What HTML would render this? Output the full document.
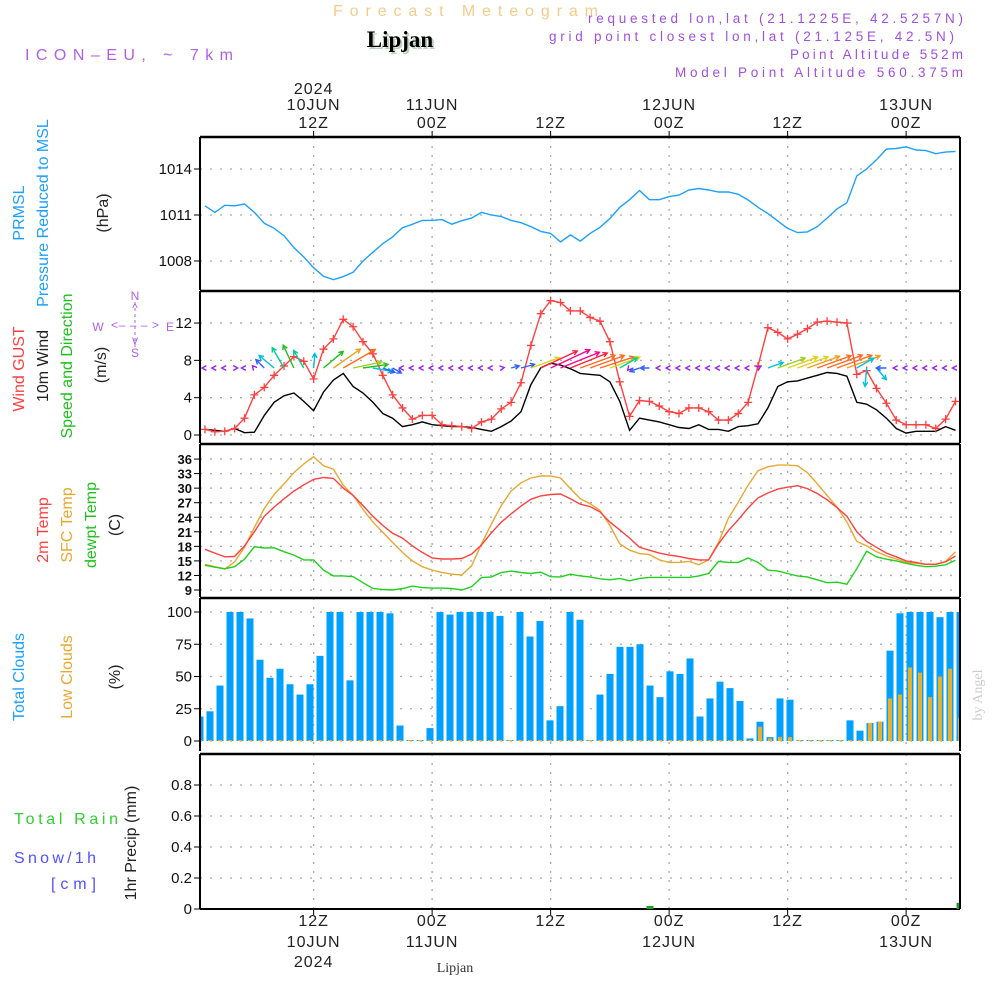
<!DOCTYPE html>
<html><head><meta charset="utf-8"><style>
html,body{margin:0;padding:0;background:#fff;}
svg{display:block;font-family:"Liberation Sans",sans-serif;}
</style></head><body>
<svg id="c" width="1000" height="1000" viewBox="0 0 1000 1000" xmlns="http://www.w3.org/2000/svg">
<text x="333" y="16" textLength="265" lengthAdjust="spacing" font-size="16" fill="#f2cc8a">Forecast Meteogram</text>
<text x="402" y="49" text-anchor="middle" font-size="23" font-weight="bold" font-family="Liberation Serif,serif" fill="#bcd0bc">Lipjan</text>
<text x="400" y="47" text-anchor="middle" font-size="23" font-weight="bold" font-family="Liberation Serif,serif" fill="#000">Lipjan</text>
<text x="25" y="60" textLength="208" lengthAdjust="spacing" font-size="16" fill="#b060e8">ICON–EU, ~ 7km</text>
<g font-size="13.5" fill="#a050e0">
<text x="588" y="23" textLength="375" lengthAdjust="spacing">requested lon,lat (21.1225E, 42.5257N)</text>
<text x="549" y="41" textLength="405" lengthAdjust="spacing">grid point closest lon,lat (21.125E, 42.5N)</text>
<text x="790" y="59" textLength="173" lengthAdjust="spacing">Point Altitude 552m</text>
<text x="675" y="77" textLength="288" lengthAdjust="spacing">Model Point Altitude 560.375m</text>
</g>
<g font-size="16" fill="#222">
<text transform="translate(24,213) rotate(-90)" text-anchor="middle" fill="#1ea0ff">PRMSL</text>
<text transform="translate(48,213) rotate(-90)" text-anchor="middle" fill="#1ea0ff">Pressure Reduced to MSL</text>
<text transform="translate(108,213) rotate(-90)" text-anchor="middle">(hPa)</text>
<text transform="translate(24,369) rotate(-90)" text-anchor="middle" fill="#ff4040">Wind GUST</text>
<text transform="translate(48,366) rotate(-90)" text-anchor="middle">10m Wind</text>
<text transform="translate(72,366) rotate(-90)" text-anchor="middle" fill="#20c020">Speed and Direction</text>
<text transform="translate(106,365) rotate(-90)" text-anchor="middle">(m/s)</text>
<text transform="translate(48,530) rotate(-90)" text-anchor="middle" fill="#ff4040">2m Temp</text>
<text transform="translate(72,525) rotate(-90)" text-anchor="middle" fill="#e8a830">SFC Temp</text>
<text transform="translate(96,525) rotate(-90)" text-anchor="middle" fill="#20c020">dewpt Temp</text>
<text transform="translate(120,525) rotate(-90)" text-anchor="middle">(C)</text>
<text transform="translate(24,677) rotate(-90)" text-anchor="middle" fill="#1ea0ff">Total Clouds</text>
<text transform="translate(72,677) rotate(-90)" text-anchor="middle" fill="#e8a830">Low Clouds</text>
<text transform="translate(120,677) rotate(-90)" text-anchor="middle">(%)</text>
<text transform="translate(136,843) rotate(-90)" text-anchor="middle">1hr Precip (mm)</text>
<text x="14" y="824" fill="#30d030" textLength="104" lengthAdjust="spacing">Total   Rain</text>
<text x="14" y="863" fill="#5050ff" textLength="82" lengthAdjust="spacing">Snow/1h</text>
<text x="51" y="889" fill="#5050ff" textLength="45" lengthAdjust="spacing">[cm]</text>
</g>
<g font-size="12" fill="#b060e8" text-anchor="middle">
<text x="135" y="300">N</text><text x="135" y="357">S</text><text x="98" y="331">W</text><text x="170" y="331">E</text>
<text x="135" y="329" font-size="12" textLength="48" lengthAdjust="spacing">&lt;– – – &gt;</text>
<text x="135" y="312">^</text><text x="135" y="344">v</text>
<line x1="135" y1="302" x2="135" y2="348" stroke="#b060e8" stroke-dasharray="3,3"/>
</g>
<text transform="translate(982,695) rotate(-90)" text-anchor="middle" font-size="14" fill="#ccc" font-family="Liberation Serif,serif">by Angel</text>
<text x="455" y="972" text-anchor="middle" font-size="14" fill="#333" font-family="Liberation Serif,serif">Lipjan</text>
<g id="plot"></g>
</svg>
<script>
// ---- data (hour index 0..76, hourly) ----
const timeTickHours = [11, 23, 35, 47, 59, 71];
const topTickLabels = [["2024","10JUN","12Z"],["","11JUN","00Z"],["","","12Z"],["","12JUN","00Z"],["","","12Z"],["","13JUN","00Z"]];
const botTickLabels = [["12Z","10JUN","2024"],["00Z","11JUN",""],["12Z","",""],["00Z","12JUN",""],["12Z","",""],["00Z","13JUN",""]];
const pressure = [1011.6,1011.17,1011.63,1011.6,1011.72,1011.17,1010.46,1010.13,1009.65,1008.87,1008.26,1007.56,1007.0,1006.78,1006.98,1007.26,1008.0,1008.57,1009.13,1009.57,1010.17,1010.39,1010.65,1010.65,1010.7,1010.4,1010.63,1010.8,1011.17,1011.0,1010.9,1010.65,1010.5,1010.24,1009.93,1009.8,1009.24,1009.7,1009.3,1009.8,1010.2,1010.77,1011.5,1012.0,1012.6,1012.0,1012.0,1012.2,1012.3,1012.63,1012.73,1012.63,1012.5,1012.5,1012.35,1011.98,1011.5,1011.1,1010.6,1010.13,1009.85,1009.9,1010.24,1010.8,1011.4,1011.8,1013.55,1014.0,1014.6,1015.3,1015.34,1015.45,1015.24,1015.2,1015.0,1015.1,1015.15];
const gust = [0.6,0.35,0.4,0.7,1.8,4.3,5.1,6.4,7.4,8.4,7.9,6.0,9.2,10.3,12.4,11.6,10.0,8.7,6.4,4.3,2.9,1.7,2.1,2.1,1.1,1.0,0.9,0.7,1.4,1.7,2.8,3.5,5.6,9.6,13.0,14.4,14.2,13.3,13.3,12.6,12.2,10.0,5.7,2.0,3.7,3.6,3.1,2.5,2.3,2.9,2.9,2.5,1.6,1.6,2.3,3.5,7.4,11.5,11.0,10.3,10.8,11.4,12.1,12.2,12.1,12.0,6.5,6.9,5.0,3.4,1.6,1.1,1.1,1.1,0.7,1.7,3.6];
const wind10m = [0.6,0.5,0.4,0.7,0.25,0.3,2.1,3.5,4.2,4.5,3.6,2.6,4.6,5.9,6.6,5.2,4.5,3.5,2.3,1.8,0.9,1.1,1.4,1.1,1.0,0.9,0.9,0.8,0.6,0.4,0.9,1.5,2.5,5.4,7.2,7.7,7.5,7.1,6.6,6.5,6.4,5.7,3.6,0.5,1.8,1.6,1.4,1.1,0.8,0.7,1.1,0.6,0.6,0.4,0.9,1.0,1.2,2.9,5.2,5.7,5.8,6.1,6.4,6.7,6.6,6.3,3.5,3.3,2.7,1.8,0.7,0.2,0.4,0.4,0.4,0.9,0.5];
const windDir = [180,180,180,0,180,130,135,140,120,115,120,85,40,35,30,12,8,-10,-20,-30,180,180,180,180,180,180,180,180,180,180,10,15,15,20,25,25,22,22,20,20,18,20,30,230,200,180,180,180,180,180,180,180,180,180,180,180,30,20,20,20,20,20,20,20,20,20,30,265,-50,180,180,180,180,180,180,180,180];
const temp2m = [17.4,16.6,15.85,15.9,18.1,21.0,24.2,26.1,27.8,29.4,30.7,31.8,32.2,32.0,30.0,28.5,26.4,24.2,22.3,20.7,19.7,18.1,16.75,15.6,15.4,15.4,15.5,16.4,18.3,20.8,23.0,24.7,26.3,27.7,28.4,28.7,28.8,27.8,26.7,26.2,25.1,23.0,21.4,19.7,17.8,17.2,16.6,16.2,15.9,15.5,15.2,15.2,18.5,21.25,23.5,25.9,28.0,29.0,29.8,30.2,30.5,29.9,28.9,27.6,26.0,24.2,21.0,19.0,17.8,16.6,15.85,15.0,14.7,14.3,14.3,14.8,16.0];
const tempSfc = [14.3,13.8,13.3,14.8,17.8,21.9,25.8,28.7,30.9,33.2,35.0,36.5,34.6,33.9,30.6,28.5,25.6,23.0,20.9,18.8,16.75,15.0,13.8,13.1,12.6,12.25,12.1,14.0,18.5,22.6,26.4,29.4,31.1,32.1,32.5,32.5,32.1,29.9,27.8,26.8,25.4,22.3,18.5,17.2,16.5,16.3,15.2,14.7,14.7,14.9,14.2,15.2,18.8,23.8,27.1,30.6,33.6,34.4,34.75,34.75,34.6,33.2,30.9,28.5,26.1,23.0,19.0,18.1,16.9,16.0,15.4,14.7,14.5,14.3,14.3,14.9,16.9];
const dewpt = [14.1,13.7,13.4,13.8,15.35,17.9,17.65,17.7,16.9,16.2,15.2,15.2,13.1,11.9,11.9,11.75,10.5,9.3,9.1,9.0,9.3,9.8,9.5,9.4,9.4,9.3,9.0,9.7,11.55,11.7,12.6,12.9,12.6,12.4,12.7,11.75,11.7,12.25,11.9,11.7,11.3,11.1,11.4,10.9,11.4,11.6,11.6,11.6,11.6,11.6,11.9,12.4,14.9,14.7,14.7,15.6,14.7,13.1,12.9,12.4,11.9,11.7,11.1,10.5,10.6,10.2,13.4,17.0,15.85,15.35,15.0,14.5,14.1,13.8,13.9,14.2,15.15];
// cloud bars (77 bars)
const totalClouds = [19,23,43,100,100,95,63,49,56,44,36,44,66,100,100,47,100,100,100,99,12,0,0,10,100,98,100,100,100,100,97,0,100,81,93,16,27,100,94,0,36,52,73,73,75,43,34,54,52,64,19,33,46,41,31,2,15,3,33,32,0,0,0,0,0,16,8,14,15,70,99,100,100,100,96,100,100];
const lowClouds = [0,0,0,0,0,0,0,0,0,0,0,0,0,0,0,0,0,0,0,0,0,0,0,0,0,0,0,0,0,0,0,0,0,0,0,0,0,0,0,0,0,0,0,0,0,0,0,0,0,0,0,0,0,0,0,0,11,2,3,3,0,0,0,0,0,0,0,14,15,33,36,57,53,34,50,56,18];
const precip = [0,0,0,0,0,0,0,0,0,0,0,0,0,0,0,0,0,0,0,0,0,0,0,0,0,0,0,0,0,0,0,0,0,0,0,0,0,0,0,0,0,0,0,0,0,0.02,0,0,0,0,0,0,0,0,0,0,0,0,0,0,0,0,0,0,0,0,0,0,0,0,0,0,0,0,0,0,0.04];
const pTicks = [1008, 1011, 1014];
const wTicks = [0, 4, 8, 12];
const tTicks = [9, 12, 15, 18, 21, 24, 27, 30, 33, 36];
const cTicks = [0, 25, 50, 75, 100];
const rTicks = [0, 0.2, 0.4, 0.6, 0.8];

// ---- scales ----
const X0 = 200, X1 = 960;
const xH = h => 205 + 9.875 * h;
const xB = k => 200 + 10 * k;
const yP = v => 169 + (1014 - v) * 15.33;
const yW = v => 435 - v * 9.33;
const yT = v => 590 - (v - 9) * 4.85;
const yC = v => 741 - v * 1.29;
const yR = v => 909 - v * 155;

const NS = "http://www.w3.org/2000/svg";
const plot = document.getElementById('plot');
function el(tag, attrs, parent) {
  const e = document.createElementNS(NS, tag);
  for (const k in attrs) e.setAttribute(k, attrs[k]);
  (parent || plot).appendChild(e);
  return e;
}
const panels = [
  {name:'pressure-panel', top:137, bot:290, ticks:pTicks, y:yP, fmt:v=>String(v)},
  {name:'wind-panel', top:291, bot:443, ticks:wTicks, y:yW, fmt:v=>String(v)},
  {name:'temperature-panel', top:444, bot:597, ticks:tTicks, y:yT, fmt:v=>String(v)},
  {name:'clouds-panel', top:598, bot:751, ticks:cTicks, y:yC, fmt:v=>String(v)},
  {name:'precip-panel', top:754, bot:909, ticks:rTicks, y:yR, fmt:v=>v===0?'0':v.toFixed(1)}
];
panels.forEach(p => {
  const g = el('g', {});
  
  
  p.ticks.forEach(t => {
    const y = p.y(t);
    const gl = el('line', {x1:X0, x2:X1, y1:y, y2:y, stroke:'#aaa', 'stroke-dasharray':'2,8', 'stroke-width':1.3}, g);
    
    
    el('line', {x1:X0-6, x2:X0, y1:y, y2:y, stroke:'#000'}, g);
    const tx = el('text', {x:X0-8, y:y+5, 'text-anchor':'end', 'font-size': p.name==='temperature-panel'?13:15, 'font-weight': p.name==='temperature-panel'?'bold':'normal', fill:'#111'}, g);
    tx.textContent = p.fmt(t);
    
    
  });
  timeTickHours.forEach(h => {
    const vl = el('line', {x1:xH(h), x2:xH(h), y1:p.top, y2:p.bot, stroke:'#aaa', 'stroke-dasharray':'2,7', 'stroke-width':1.3}, g);
    
    
  });
  el('line', {x1:X0, x2:X0, y1:p.top, y2:p.bot, stroke:'#000', 'stroke-width':2}, g);
  el('line', {x1:X1, x2:X1, y1:p.top, y2:p.bot, stroke:'#000', 'stroke-width':2}, g);
  el('line', {x1:X0, x2:X1, y1:p.top, y2:p.top, stroke:'#000', 'stroke-width':2.5}, g);
});
el('line', {x1:X0, x2:X1, y1:909, y2:909, stroke:'#000', 'stroke-width':2});

// time labels
timeTickHours.forEach((h, i) => {
  const x = xH(h);
  el('line', {x1:x, x2:x, y1:131, y2:137, stroke:'#000'});
  el('line', {x1:x, x2:x, y1:909, y2:915, stroke:'#000'});
  topTickLabels[i].forEach((s, j) => {
    if (!s) return;
    const t = el('text', {x:x, y:[94,110,128][j], 'text-anchor':'middle', 'font-size':16, fill:'#222', 'letter-spacing':1});
    t.textContent = s;
    
    
  });
  botTickLabels[i].forEach((s, j) => {
    if (!s) return;
    const t = el('text', {x:x, y:[926,947,967][j], 'text-anchor':'middle', 'font-size':16, fill:'#222', 'letter-spacing':1});
    t.textContent = s;
    
    
  });
});

const cp = el('clipPath', {id:'clip'});
el('rect', {x:X0+1, y:0, width:X1-X0-2, height:1000}, cp);
const data = el('g', {'clip-path':'url(#clip)'});

function line(arr, yf, color, name, w) {
  const d = arr.map((v, i) => (i ? 'L' : 'M') + xH(i).toFixed(1) + ',' + yf(v).toFixed(1)).join('');
  const p = el('path', {d:d, fill:'none', stroke:color, 'stroke-width':w||1.4}, data);
  
  
}
line(pressure, yP, '#1ea0ff', 'pressure-line');
line(wind10m, yW, '#000', 'wind-10m-line');
line(gust, yW, '#ff4040', 'gust-line');
gust.forEach((v, i) => {
  const x = xH(i), y = yW(v);
  const m = el('path', {d:`M${x-4},${y}H${x+4}M${x},${y-4}V${y+4}`, stroke:'#ff4040', 'stroke-width':1.3}, data);
  
  
});
function spdColor(s) {
  if (s < 1.5) return '#9a20f0';
  if (s < 2.6) return '#3060ff';
  if (s < 3.6) return '#00c0e0';
  if (s < 4.3) return '#00d090';
  if (s < 4.8) return '#20c020';
  if (s < 5.3) return '#a0d020';
  if (s < 5.9) return '#e0d020';
  if (s < 6.4) return '#f0a020';
  if (s < 6.9) return '#ff6a20';
  if (s < 7.3) return '#ff2040';
  return '#ff0090';
}
windDir.forEach((d, i) => {
  const s = wind10m[i];
  const x = xH(i), y = 368;
  const a = d * Math.PI / 180;
  const L = s < 1.5 ? 3 : s * 5.6;
  const x2 = x + L * Math.cos(a), y2 = y - L * Math.sin(a);
  const hl = 5, ha = 0.5;
  const h1x = x2 - hl * Math.cos(a - ha), h1y = y2 + hl * Math.sin(a - ha);
  const h2x = x2 - hl * Math.cos(a + ha), h2y = y2 + hl * Math.sin(a + ha);
  const dd = (s < 1.5 ? '' : `M${x},${y}L${x2},${y2}`) + `M${h1x},${h1y}L${x2},${y2}L${h2x},${h2y}`;
  const ar = el('path', {d:dd, fill:'none', stroke:spdColor(s), 'stroke-width':1.4}, data);
  
  
});
line(tempSfc, yT, '#e8a830', 'sfc-temp-line');
line(temp2m, yT, '#ff4040', '2m-temp-line');
line(dewpt, yT, '#20d020', 'dewpoint-line');

totalClouds.forEach((v, k) => {
  const x = xB(k), y = yC(v);
  const r = el('rect', {x:x-3.5, y:Math.min(y, 740), width:7, height:Math.max(741-y, 1), fill:'#00a0ff'}, data);
  
  
});
lowClouds.forEach((v, k) => {
  const x = xB(k), y = yC(v);
  const r = el('rect', {x:x-2, y:Math.min(y, 740), width:4, height:Math.max(741-y, 1), fill:'#e8b030'}, data);
  
  
});
precip.forEach((v, k) => {
  if (v <= 0) return;
  const x = xB(k), y = yR(v);
  const r = el('rect', {x:x-3.5, y:y, width:7, height:909-y, fill:'#20a020'}, data);
  
  
});
</script>
</body></html>
